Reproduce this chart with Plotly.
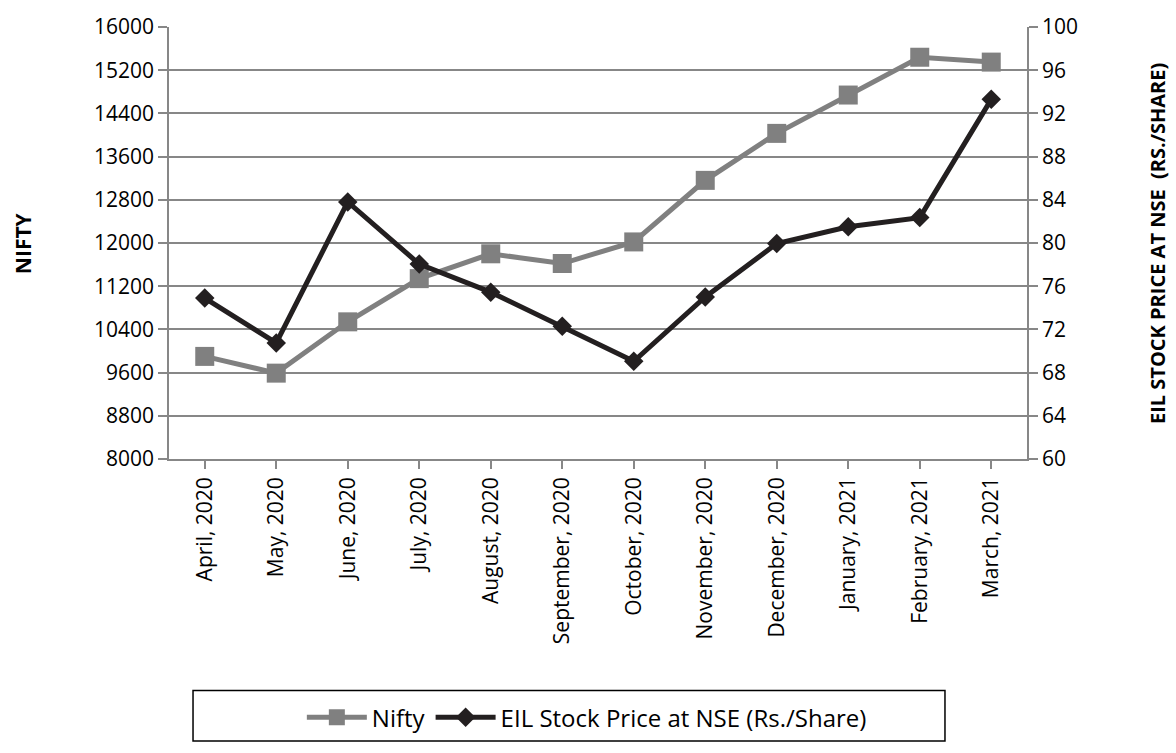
import plotly.graph_objects as go

months = ["April, 2020", "May, 2020", "June, 2020", "July, 2020", "August, 2020",
          "September, 2020", "October, 2020", "November, 2020", "December, 2020",
          "January, 2021", "February, 2021", "March, 2021"]
nifty = [9900, 9590, 10540, 11340, 11800, 11620, 12020, 13160, 14030, 14740, 15440, 15350]
eil = [74.9, 70.75, 83.8, 78.05, 75.45, 72.3, 69.05, 75.0, 79.95, 81.5, 82.35, 93.3]

left_ticks = list(range(8000, 16001, 800))
right_ticks = list(range(60, 101, 4))

FONT = "Open Sans"
GRID = "#878787"
TICK_SIZE = 21

fig = go.Figure()
fig.add_trace(go.Scatter(
    x=months, y=nifty, name="Nifty", mode="lines+markers",
    line=dict(color="#808080", width=5),
    marker=dict(symbol="square", size=19, color="#808080"),
    yaxis="y"))
fig.add_trace(go.Scatter(
    x=months, y=eil, name="EIL Stock Price at NSE (Rs./Share)", mode="lines+markers",
    line=dict(color="#231F20", width=5),
    marker=dict(symbol="diamond", size=15, color="#231F20"),
    yaxis="y2"))

fig.update_layout(
    width=1176, height=753, autosize=False,
    margin=dict(l=169, r=149, t=17, b=291, pad=0),
    paper_bgcolor="white", plot_bgcolor="white",
    font=dict(family=FONT, size=TICK_SIZE, color="black"),
    showlegend=True,
    legend=dict(orientation="h", x=0.487, xanchor="center", y=-0.599, yanchor="middle",
                bgcolor="rgba(0,0,0,0)", borderwidth=0, itemwidth=60,
                font=dict(family=FONT, size=24, color="black"), traceorder="normal"),
    xaxis=dict(type="category", range=[-0.5, 11.5], tickangle=-90,
               showgrid=False, showline=True, linecolor=GRID, linewidth=1.5,
               ticks="outside", ticklen=8, tickcolor=GRID, tickwidth=1.5,
               tickfont=dict(family=FONT, size=TICK_SIZE, color="black"), zeroline=False),
    yaxis=dict(range=[8000, 16000], tickvals=left_ticks, ticktext=[str(v) for v in left_ticks],
               showgrid=True, gridcolor=GRID, gridwidth=1.5,
               showline=True, linecolor=GRID, linewidth=1.5,
               ticks="outside", ticklen=9, tickcolor=GRID, tickwidth=1.5,
               tickfont=dict(family=FONT, size=TICK_SIZE, color="black"), zeroline=False),
    yaxis2=dict(range=[60, 100], tickvals=right_ticks, ticktext=[str(v) for v in right_ticks],
                overlaying="y", side="right", showgrid=False,
                showline=True, linecolor=GRID, linewidth=1.5,
                ticks="outside", ticklen=9, tickcolor=GRID, tickwidth=1.5,
                tickfont=dict(family=FONT, size=TICK_SIZE, color="black"), zeroline=False),
)

fig.add_shape(type="rect", xref="paper", yref="paper",
              x0=0.028, x1=0.9044, y0=-0.653, y1=-0.536,
              line=dict(color="black", width=1.5), fillcolor="rgba(0,0,0,0)")

fig.add_annotation(text="<b>NIFTY</b>", xref="paper", yref="paper", x=-0.170, y=0.5,
                   textangle=-90, showarrow=False, xanchor="center", yanchor="middle",
                   font=dict(family=FONT, size=21, color="black"))
fig.add_annotation(text="<b>EIL STOCK PRICE AT NSE  (RS./SHARE)</b>", xref="paper", yref="paper",
                   x=1.1515, y=0.5, textangle=-90, showarrow=False,
                   xanchor="center", yanchor="middle",
                   font=dict(family=FONT, size=20, color="black"))

fig.write_html("out.html",
               config={"displayModeBar": False},
               post_script="document.body.style.margin='0px';"
                           "document.body.style.overflow='hidden';"
                           "document.documentElement.style.overflow='hidden';")
